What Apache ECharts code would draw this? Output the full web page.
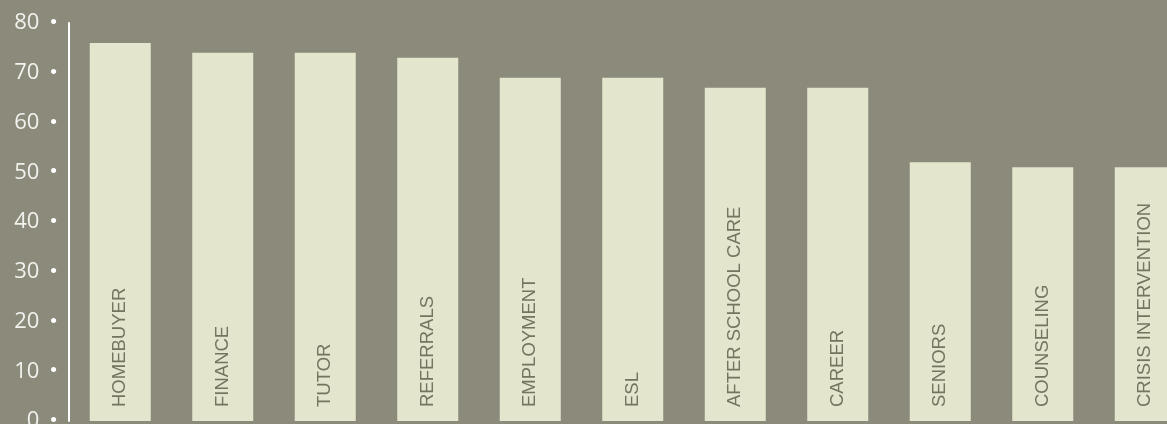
<!DOCTYPE html>
<html>
<head>
<meta charset="utf-8">
<script src="https://cdn.jsdelivr.net/npm/echarts@6/dist/echarts.min.js"></script>
<style>
html,body{margin:0;padding:0;background:#8b8a7b;}
#chart{width:1167px;height:424px;}
</style>
</head>
<body>
<div id="chart"></div>
<script>
const categories = ["HOMEBUYER","FINANCE","TUTOR","REFERRALS","EMPLOYMENT","ESL","AFTER SCHOOL CARE","CAREER","SENIORS","COUNSELING","CRISIS INTERVENTION"];
const values = [76,74,74,73,69,69,67,67,52,51,51];
const yTicks = [0,10,20,30,40,50,60,70,80];

const chart = echarts.init(document.getElementById('chart'));
chart.setOption({
  backgroundColor: '#8b8a7b',
  animation: false,
  grid: {left: 69, top: 23, bottom: 3, width: 1127.5, containLabel: false, outerBoundsMode: 'none'},
  xAxis: {
    type: 'category', data: categories,
    axisLine: {show: false}, axisTick: {show: false}, axisLabel: {show: false}
  },
  yAxis: {
    type: 'value', min: yTicks[0], max: yTicks[yTicks.length-1], interval: 10,
    splitLine: {show: false},
    axisTick: {show: false},
    axisLine: {show: true, lineStyle: {color: '#ffffff', width: 2}},
    axisLabel: {
      margin: 12,
      formatter: function (v) { return '{v|' + v + '}{d|•}'; },
      rich: {
        v: {fontFamily: 'Open Sans', fontSize: 22, color: '#f2f2ee'},
        d: {fontFamily: 'Liberation Sans', fontSize: 19, color: '#ffffff', padding: [0,0,0,11]}
      }
    }
  },
  series: [{
    type: 'bar',
    data: values,
    barWidth: 61,
    itemStyle: {color: '#e3e6cd'},
    label: {
      show: true,
      position: 'insideBottom',
      rotate: 90,
      align: 'left',
      verticalAlign: 'middle',
      distance: 14,
      formatter: function (p) { return p.name; },
      fontFamily: 'Liberation Sans',
      fontSize: 18.5,
      color: '#73755f'
    }
  }]
});
</script>
</body>
</html>
